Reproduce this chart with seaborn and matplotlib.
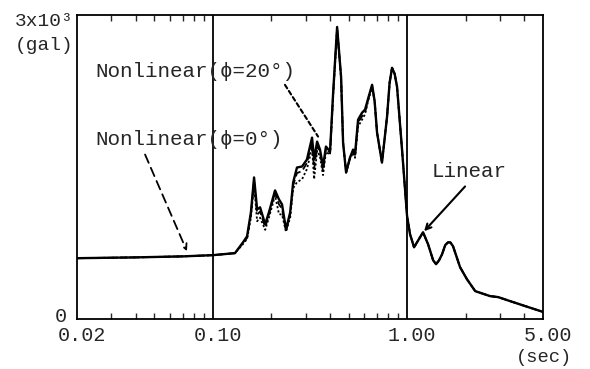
import matplotlib
matplotlib.use("Agg")
import matplotlib.pyplot as plt
import matplotlib.transforms as mtransforms
import seaborn as sns
import pandas as pd
import numpy as np

# DATA
period = [0.020, 0.040, 0.070, 0.100, 0.130, 0.143, 0.150, 0.157, 0.163, 0.169,
          0.175, 0.186, 0.195, 0.209, 0.219, 0.227, 0.238, 0.250, 0.259, 0.271,
          0.288, 0.305, 0.324, 0.332, 0.344, 0.356, 0.369, 0.382, 0.401, 0.416,
          0.436, 0.457, 0.468, 0.485, 0.508, 0.527, 0.539, 0.559, 0.586, 0.607,
          0.635, 0.660, 0.680, 0.700, 0.742, 0.788, 0.812, 0.836, 0.862, 0.887,
          0.941, 0.999, 1.035, 1.085, 1.207, 1.281, 1.360, 1.408, 1.460, 1.512,
          1.570, 1.624, 1.670, 1.722, 1.872, 2.030, 2.240, 2.670, 2.940, 3.380,
          4.190, 5.000]

linear = [600, 608, 618, 630, 650, 757, 816, 1052, 1397, 1082,
          1102, 934, 1062, 1269, 1180, 1131, 885, 1052, 1348, 1495,
          1505, 1574, 1790, 1574, 1751, 1672, 1505, 1702, 1652, 2233,
          2882, 2390, 1741, 1446, 1593, 1672, 1623, 1967, 2036, 2066,
          2200, 2311, 2150, 1839, 1544, 1997, 2330, 2479, 2420, 2292,
          1672, 1013, 836, 708, 856, 738, 580, 541, 580, 639,
          730, 757, 755, 718, 511, 393, 275, 226, 216, 177,
          118, 70]

nonlin_0 = [600, 608, 618, 630, 650, 750, 800, 1030, 1370, 1030,
            1060, 905, 1040, 1245, 1130, 1090, 870, 1030, 1320, 1440,
            1460, 1540, 1740, 1480, 1710, 1640, 1460, 1680, 1640, 2220,
            2870, 2385, 1741, 1446, 1593, 1660, 1610, 1940, 2000, 2040,
            2190, 2300, 2150, 1839, 1544, 1997, 2330, 2479, 2420, 2292,
            1672, 1013, 836, 708, 856, 738, 580, 541, 580, 639,
            730, 757, 755, 718, 511, 393, 275, 226, 216, 177,
            118, 70]

nonlin_20 = [600, 608, 618, 630, 650, 740, 790, 1000, 1330, 965,
             1000, 880, 1010, 1220, 1035, 1030, 860, 1000, 1290, 1350,
             1380, 1480, 1690, 1380, 1660, 1600, 1420, 1650, 1620, 2200,
             2860, 2380, 1741, 1446, 1580, 1640, 1590, 1900, 1967, 2020,
             2180, 2290, 2150, 1839, 1544, 1997, 2330, 2479, 2420, 2292,
             1672, 1013, 836, 708, 856, 738, 580, 541, 580, 639,
             730, 757, 755, 718, 511, 393, 275, 226, 216, 177,
             118, 70]

df = pd.DataFrame({"period": period, "Linear": linear,
                   "Nonlinear0": nonlin_0, "Nonlinear20": nonlin_20})

sns.set_style("ticks")
plt.rcParams['font.family'] = ['Liberation Mono', 'DejaVu Sans Mono']

fig = plt.figure(figsize=(5.9, 3.69), dpi=100)
ax = fig.add_axes([77 / 590, 1 - 319 / 369, (543 - 77) / 590, (319 - 15) / 369])

sns.lineplot(data=df, x="period", y="Nonlinear20", ax=ax, color="black",
             linewidth=1.3, linestyle=(0, (1.2, 1.2)))
sns.lineplot(data=df, x="period", y="Nonlinear0", ax=ax, color="black",
             linewidth=1.3, linestyle=(0, (4, 2)))
sns.lineplot(data=df, x="period", y="Linear", ax=ax, color="black",
             linewidth=1.7)

ax.set_xscale("log")
ax.set_xlim(0.02, 5.0)
ax.set_ylim(0, 3000)

for xv in [0.1, 1.0]:
    ax.axvline(xv, color="black", linewidth=1.3)

for s in ax.spines.values():
    s.set_linewidth(1.3)
    s.set_color("black")

ax.set_xticks([0.02, 0.1, 1.0, 5.0])
ax.set_xticklabels(["0.02", "0.10", "1.00", "5.00"], fontsize=14.5)
ax.tick_params(axis="x", which="major", length=0, pad=5)
ax.tick_params(axis="x", which="minor", direction="in", length=4,
               width=1, top=True, bottom=True)
ax.xaxis.set_minor_formatter(matplotlib.ticker.NullFormatter())
shift = mtransforms.ScaledTranslation(5 / 100, 0, fig.dpi_scale_trans)
for lab in ax.get_xticklabels():
    lab.set_transform(lab.get_transform() + shift)

ax.set_yticks([0])
ax.set_yticklabels(["0"], fontsize=14.5)
ax.tick_params(axis="y", length=0, pad=7)
up = mtransforms.ScaledTranslation(0, 4 / 100, fig.dpi_scale_trans)
for lab in ax.get_yticklabels():
    lab.set_transform(lab.get_transform() + up)
ax.set_xlabel("")
ax.set_ylabel("")

fig.text(15 / 590, 1 - 22 / 369, "3x10³", fontsize=14, ha="left", va="center")
fig.text(15 / 590, 1 - 45 / 369, "(gal)", fontsize=14, ha="left", va="center")
fig.text(572 / 590, 1 - 357 / 369, "(sec)", fontsize=13.5, ha="right", va="center")

# annotations
ax.annotate("Nonlinear(ϕ=20°)", xy=(0.348, 1800), xytext=(0.0248, 2439),
            fontsize=15, va="center", ha="left")
ax.annotate("", xy=(0.348, 1800), xytext=(0.235, 2311),
            arrowprops=dict(arrowstyle="-", color="black", lw=1.5,
                            linestyle=(0, (2, 1.5)), shrinkA=0, shrinkB=0))

ax.annotate("Nonlinear(ϕ=0°)", xy=(0.0736, 669), xytext=(0.0248, 1770),
            fontsize=15, va="center", ha="left")
ax.annotate("", xy=(0.0736, 669), xytext=(0.0448, 1623),
            arrowprops=dict(arrowstyle="->", color="black", lw=1.3,
                            linestyle=(0, (5, 3)), shrinkA=0, shrinkB=0))

ax.text(1.33, 1456, "Linear", fontsize=15, va="center", ha="left")
ax.annotate("", xy=(1.222, 866), xytext=(1.986, 1308),
            arrowprops=dict(arrowstyle="->", color="black", lw=1.5,
                            shrinkA=0, shrinkB=0))

fig.savefig("out.png", dpi=100)
